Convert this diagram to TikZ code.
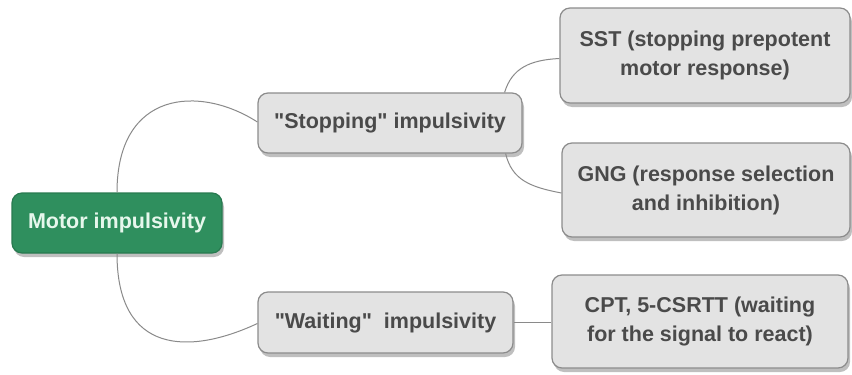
\documentclass[tikz,border=0pt]{standalone}
\usepackage{fontspec}
\setmainfont{Liberation Sans}[Ligatures=TeXOff]
\usetikzlibrary{shadows}
\definecolor{boxfill}{HTML}{E3E3E3}
\definecolor{boxdraw}{HTML}{8C8C8C}
\definecolor{boxtext}{HTML}{4A4A4A}
\definecolor{rootfill}{HTML}{2F8F5E}
\definecolor{roottext}{HTML}{E6F7EC}
\definecolor{linkcol}{HTML}{8A8A8A}
\tikzset{
  basebox/.style={rounded corners=10pt, line width=1.2pt, align=center, inner sep=0pt,
    font=\fontsize{21.5}{29}\selectfont\bfseries,
    drop shadow={shadow xshift=2pt, shadow yshift=-4pt, opacity=0.25, fill=black}},
  leafbox/.style={basebox, fill=boxfill, draw=boxdraw, text=boxtext},
  rootbox/.style={basebox, fill=rootfill, draw=rootfill!85!black, text=roottext},
  link/.style={draw=linkcol, line width=1pt}
}
\begin{document}
\begin{tikzpicture}[x=1pt,y=-1pt]
\useasboundingbox[fill=white] (0,0) rectangle (852,375);
\node[rootbox, minimum width=210pt, minimum height=60pt] (motor) at (117,223) {Motor impulsivity};
\node[leafbox, minimum width=264pt, minimum height=60pt] (stop) at (390,123) {"Stopping" impulsivity};
\node[leafbox, minimum width=290pt, minimum height=95pt] (sst) at (705,55.5) {SST (stopping prepotent\\motor response)};
\node[leafbox, minimum width=288pt, minimum height=94pt] (gng) at (706,190) {GNG (response selection\\and inhibition)};
\node[leafbox, minimum width=255pt, minimum height=61pt] (wait) at (385.5,322.5) {"Waiting"\ \ impulsivity};
\node[leafbox, minimum width=296pt, minimum height=93pt] (cpt) at (700,321.5) {CPT, 5-CSRTT (waiting\\for the signal to react)};
\draw[link] (motor.north) .. controls (117,90) and (200,85) .. ([yshift=1pt]stop.west);
\draw[link] (motor.south) .. controls (117,355) and (190,355) .. ([yshift=-1pt]wait.west);
\draw[link] ([xshift=-18pt]stop.north east) .. controls (512,68) and (530,60) .. ([yshift=-3pt]sst.west);
\draw[link] ([xshift=-17pt]stop.south east) .. controls (512,180) and (530,187) .. ([yshift=-3pt]gng.west);
\draw[link] (wait.east) -- (wait.east -| cpt.west);
\end{tikzpicture}
\end{document}
